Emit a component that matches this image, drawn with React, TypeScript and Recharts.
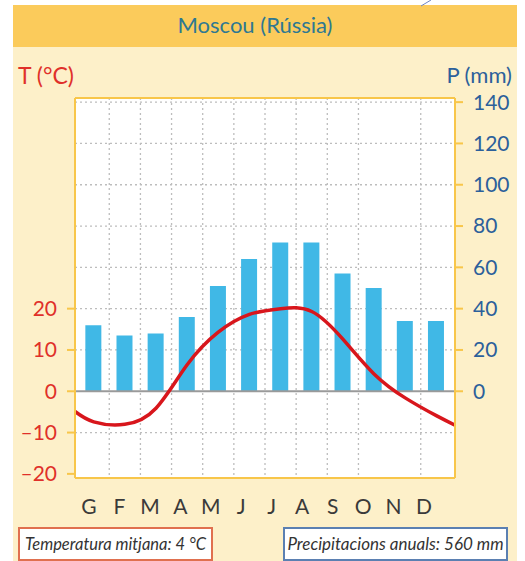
import React from "react";
import {
  ComposedChart,
  Bar,
  Line,
  XAxis,
  YAxis,
  CartesianGrid,
  ReferenceLine,
} from "recharts";

// ---- data ----
const months = ["G", "F", "M", "A", "M", "J", "J", "A", "S", "O", "N", "D"];
const monthIndex = [1, 2, 3, 4, 5, 6, 7, 8, 9, 10, 11, 12];
const precipitation = [32, 27, 28, 36, 51, 64, 72, 72, 57, 50, 34, 34];
// temperature curve: monthly values plus the curve ends at the frame edges
const tempX = [0.4, 1, 2, 3, 4, 5, 6, 7, 8, 9, 10, 11, 12, 12.6];
const tempValues = [-4.9, -7.4, -8.0, -4.1, 6.4, 14.3, 18.6, 20.0, 19.3, 12.6, 4.2, -1.6, -5.9, -8.2];
const tempTicks = [-20, -10, 0, 10, 20];
const precTicks = [0, 20, 40, 60, 80, 100, 120, 140];
const gridYTicks = [-20, 20, 40, 60, 80, 100, 120, 140];
const gridXTicks = [1.5, 2.5, 3.5, 4.5, 5.5, 6.5, 7.5, 8.5, 9.5, 10.5, 11.5];

const barData = monthIndex.map((m, i) => ({ m, p: precipitation[i] }));
const lineData = tempX.map((m, i) => ({ m, t: tempValues[i] }));

const YELLOW = "#F8C64A";
const CREAM = "#FDF0C9";
const RED = "#E0302A";
const BLUE = "#2C609B";
const FONT = "Lato, 'Open Sans', sans-serif";

export default function App() {
  return (
    <div
      style={{
        position: "absolute",
        left: 0,
        top: 0,
        width: 525,
        height: 561,
        background: "#fff",
        overflow: "hidden",
        fontFamily: FONT,
      }}
    >
      {/* cream panel */}
      <div
        style={{
          position: "absolute",
          left: 13,
          top: 5,
          width: 504,
          height: 556,
          background: CREAM,
        }}
      />
      {/* title bar */}
      <div
        style={{
          position: "absolute",
          left: 13,
          top: 5,
          width: 504,
          height: 42,
          background: "#FBCB5B",
        }}
      />
      <svg
        width={525}
        height={12}
        style={{ position: "absolute", left: 0, top: 0 }}
      >
        <line x1={431} y1={0} x2={421} y2={6} stroke="#6F86C9" strokeWidth={1} />
      </svg>
      <div
        style={{
          position: "absolute",
          left: 155,
          top: 10,
          width: 200,
          textAlign: "center",
          fontSize: 22,
          lineHeight: "30px",
          color: "#2E7892",
        }}
      >
        Moscou (Rússia)
      </div>
      {/* axis titles */}
      <div
        style={{
          position: "absolute",
          left: 18,
          top: 61,
          fontSize: 23,
          lineHeight: "28px",
          color: RED,
        }}
      >
        T (°C)
      </div>
      <div
        style={{
          position: "absolute",
          right: 13,
          top: 61,
          fontSize: 22,
          lineHeight: "28px",
          color: BLUE,
        }}
      >
        P (mm)
      </div>

      <div style={{ position: "absolute", left: 0, top: 0 }}>
        <ComposedChart
          width={525}
          height={561}
          data={barData}
          margin={{ top: 97, right: 10, left: 15, bottom: 53 }}
        >
          <CartesianGrid
            xAxisId="gridx"
            yAxisId="gridy"
            fill="#ffffff"
            stroke="#bdbdbd"
            strokeDasharray="2 3"
            strokeWidth={1.3}
          />
          <XAxis
            xAxisId="main"
            dataKey="m"
            type="number"
            domain={[0.4, 12.6]}
            allowDataOverflow
            height={0}
            hide
          />
          <XAxis
            xAxisId="gridx"
            dataKey="m"
            type="number"
            domain={[0.4, 12.6]}
            ticks={gridXTicks}
            allowDataOverflow
            height={0}
            hide
          />
          <XAxis
            xAxisId="top"
            orientation="top"
            dataKey="m"
            type="number"
            domain={[0.4, 12.6]}
            allowDataOverflow
            height={1}
            tick={false}
            tickLine={false}
            axisLine={{ stroke: YELLOW, strokeWidth: 2 }}
          />
          <XAxis
            xAxisId="labels"
            dataKey="m"
            type="number"
            domain={[0.54, 13.02]}
            ticks={monthIndex}
            allowDataOverflow
            interval={0}
            height={30}
            tickLine={false}
            tickSize={0}
            tickMargin={21}
            axisLine={{ stroke: YELLOW, strokeWidth: 2 }}
            tickFormatter={(v: number) => months[v - 1]}
            tick={{ fill: "#3a3a3a", fontSize: 21, fontFamily: FONT }}
          />
          <YAxis
            yAxisId="left"
            orientation="left"
            type="number"
            domain={[-21, 71]}
            allowDataOverflow
            ticks={tempTicks}
            width={60}
            tickSize={8}
            tickMargin={10}
            axisLine={{ stroke: YELLOW, strokeWidth: 2 }}
            tickLine={{ stroke: YELLOW, strokeWidth: 2 }}
            tickFormatter={(v: number) => (v < 0 ? "\u2013" + Math.abs(v) : String(v))}
            tick={{ fill: RED, fontSize: 21, fontFamily: FONT }}
          />
          <YAxis
            yAxisId="right"
            orientation="right"
            type="number"
            domain={[-42, 142]}
            allowDataOverflow
            ticks={precTicks}
            width={60}
            tickSize={8}
            tickMargin={10}
            axisLine={{ stroke: YELLOW, strokeWidth: 2 }}
            tickLine={{ stroke: YELLOW, strokeWidth: 2 }}
            tick={{ fill: BLUE, fontSize: 21, fontFamily: FONT, textAnchor: "start" }}
          />
          <YAxis
            yAxisId="gridy"
            type="number"
            domain={[-42, 142]}
            allowDataOverflow
            ticks={gridYTicks}
            width={0}
            hide
          />
          <Bar
            xAxisId="main"
            yAxisId="right"
            dataKey="p"
            fill="#40B8E6"
            barSize={16}
            isAnimationActive={false}
          />
          <ReferenceLine
            xAxisId="main"
            yAxisId="right"
            y={0}
            stroke="#9a9a9a"
            strokeWidth={2}
          />
          <Line
            xAxisId="main"
            yAxisId="left"
            data={lineData}
            dataKey="t"
            type="natural"
            stroke="#D8161C"
            strokeWidth={3.5}
            dot={false}
            activeDot={false}
            isAnimationActive={false}
          />
        </ComposedChart>
      </div>

      {/* bottom info boxes */}
      <div
        style={{
          position: "absolute",
          left: 18,
          top: 527,
          width: 191,
          height: 30,
          border: "2px solid #E0704F",
          background: "#fff",
          fontStyle: "italic",
          fontSize: 16.5,
          lineHeight: "30px",
          color: "#333",
          textAlign: "center",
          whiteSpace: "nowrap",
        }}
      >
        Temperatura mitjana: 4 °C
      </div>
      <div
        style={{
          position: "absolute",
          left: 283,
          top: 527,
          width: 221,
          height: 30,
          border: "2px solid #5B80B2",
          background: "#fff",
          fontStyle: "italic",
          fontSize: 17,
          lineHeight: "30px",
          color: "#333",
          textAlign: "center",
          whiteSpace: "nowrap",
        }}
      >
        Precipitacions anuals: 560 mm
      </div>
    </div>
  );
}
